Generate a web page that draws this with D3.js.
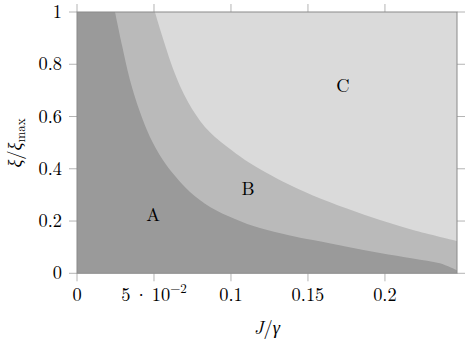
<!DOCTYPE html>
<html><head><meta charset="utf-8">
<script src="https://cdn.jsdelivr.net/npm/d3@7"></script>
<style>body{margin:0;background:#fff}svg{display:block}</style>
</head><body>
<script>
// Boundary between regions A and B
const lowerJ  = [0.0247, 0.0292, 0.0344, 0.0409, 0.0474, 0.0558, 0.0636, 0.0734, 0.0864, 0.1026, 0.1188, 0.1383, 0.1532, 0.1753, 0.1968, 0.2182, 0.2357, 0.2468];
const lowerXi = [1.000,  0.874,  0.740,  0.617,  0.522,  0.434,  0.373,  0.311,  0.254,  0.208,  0.173,  0.145,  0.127,  0.102,  0.078,  0.057,  0.038,  0.011];
// Boundary between regions B and C
const upperJ  = [0.0506, 0.0539, 0.0578, 0.0617, 0.0669, 0.0721, 0.0773, 0.0831, 0.0896, 0.0981, 0.1091, 0.1221, 0.1383, 0.1532, 0.1753, 0.1968, 0.2182, 0.2468];
const upperXi = [1.000,  0.935,  0.862,  0.793,  0.717,  0.656,  0.606,  0.560,  0.522,  0.481,  0.434,  0.388,  0.338,  0.298,  0.248,  0.204,  0.166,  0.124];
const regionLabels = ["A", "B", "C"];
const labelJ  = [0.0494, 0.111, 0.1727];
const labelXi = [0.223, 0.326, 0.72];
const xTicks = [0, 0.05, 0.1, 0.15, 0.2];
const xTickLabels = ["0", "5e-2", "0.1", "0.15", "0.2"];
const yTicks = [0, 0.2, 0.4, 0.6, 0.8, 1];
const yTickLabels = ["0", "0.2", "0.4", "0.6", "0.8", "1"];
const xDomain = [0, 0.2468];

const W = 466, H = 343;
const L = 77, R = 457, T = 12, B = 273.3;
const FF = '"Latin Modern Roman"';
const svg = d3.select("body").append("svg").attr("width", W).attr("height", H);
const x = d3.scaleLinear().domain(xDomain).range([L, R]);
const y = d3.scaleLinear().domain([0, 1]).range([B, T]);

svg.append("clipPath").attr("id", "clip").append("rect")
  .attr("x", L).attr("y", T).attr("width", R - L).attr("height", B - T);
const g = svg.append("g").attr("clip-path", "url(#clip)");

g.append("rect").attr("x", L).attr("y", T).attr("width", R - L).attr("height", B - T).attr("fill", "#dadada");

function region(J, Xi) {
  const pts = J.map((d, i) => [d, Xi[i]]);
  const top = d3.line().x(d => x(d[0])).y(d => y(d[1])).curve(d3.curveCatmullRom.alpha(0.5))(pts);
  return `M${x(0)},${y(0)}L${x(0)},${y(1)}L` + top.slice(1) + `L${x(J[J.length - 1])},${y(0)}Z`;
}
g.append("path").attr("d", region(upperJ, upperXi)).attr("fill", "#bababa");
g.append("path").attr("d", region(lowerJ, lowerXi)).attr("fill", "#9a9a9a");

// ticks
const tc = "#b4b4b4", tl = 8;
xTicks.forEach(t => {
  svg.append("line").attr("x1", x(t)).attr("x2", x(t)).attr("y1", B).attr("y2", B + tl).attr("stroke", tc);
  svg.append("line").attr("x1", x(t)).attr("x2", x(t)).attr("y1", T).attr("y2", T - tl).attr("stroke", tc);
});
yTicks.forEach(t => {
  svg.append("line").attr("x1", L).attr("x2", L - tl).attr("y1", y(t)).attr("y2", y(t)).attr("stroke", tc);
  svg.append("line").attr("x1", R).attr("x2", R + tl).attr("y1", y(t)).attr("y2", y(t)).attr("stroke", tc);
});
// frame
svg.append("rect").attr("x", L).attr("y", T).attr("width", R - L).attr("height", B - T)
  .attr("fill", "none").attr("stroke", "#8a8a8a").attr("stroke-width", 1);

function txt(sel) { return sel.style("font-family", FF).attr("fill", "#000"); }

// tick labels
const fs = 18.4;
xTicks.forEach((t, i) => {
  const tx = txt(svg.append("text")).attr("x", x(t)).attr("y", 301).attr("text-anchor", "middle").attr("font-size", fs);
  if (xTickLabels[i] === "5e-2") {
    tx.append("tspan").text("5");
    tx.append("tspan").attr("dx", 3.5).text("·");
    tx.append("tspan").attr("dx", 3.5).text("10");
    tx.append("tspan").attr("dy", -8).attr("font-size", 13).text("−2");
  } else tx.text(xTickLabels[i]);
});
yTicks.forEach((t, i) => {
  txt(svg.append("text")).attr("x", 62).attr("y", y(t)).attr("dy", "0.33em").attr("text-anchor", "end")
    .attr("font-size", fs).text(yTickLabels[i]);
});

// region labels
regionLabels.forEach((s, i) => {
  txt(svg.append("text")).attr("x", x(labelJ[i])).attr("y", y(labelXi[i])).attr("dy", "0.35em")
    .attr("text-anchor", "middle").attr("font-size", fs).text(s);
});

// axis labels
const xl = txt(svg.append("text")).attr("x", 267).attr("y", 334).attr("text-anchor", "middle").attr("font-size", fs);
xl.append("tspan").attr("font-style", "italic").text("J");
xl.append("tspan").text("/");
xl.append("tspan").attr("font-style", "italic").text("γ");

const yl = txt(svg.append("text")).attr("transform", "translate(21,143) rotate(-90)").attr("text-anchor", "middle")
  .attr("font-size", fs);
yl.append("tspan").attr("font-style", "italic").text("ξ");
yl.append("tspan").text("/");
yl.append("tspan").attr("font-style", "italic").text("ξ");
yl.append("tspan").attr("dy", 4).attr("font-size", 13).text("max");
</script>
</body></html>
